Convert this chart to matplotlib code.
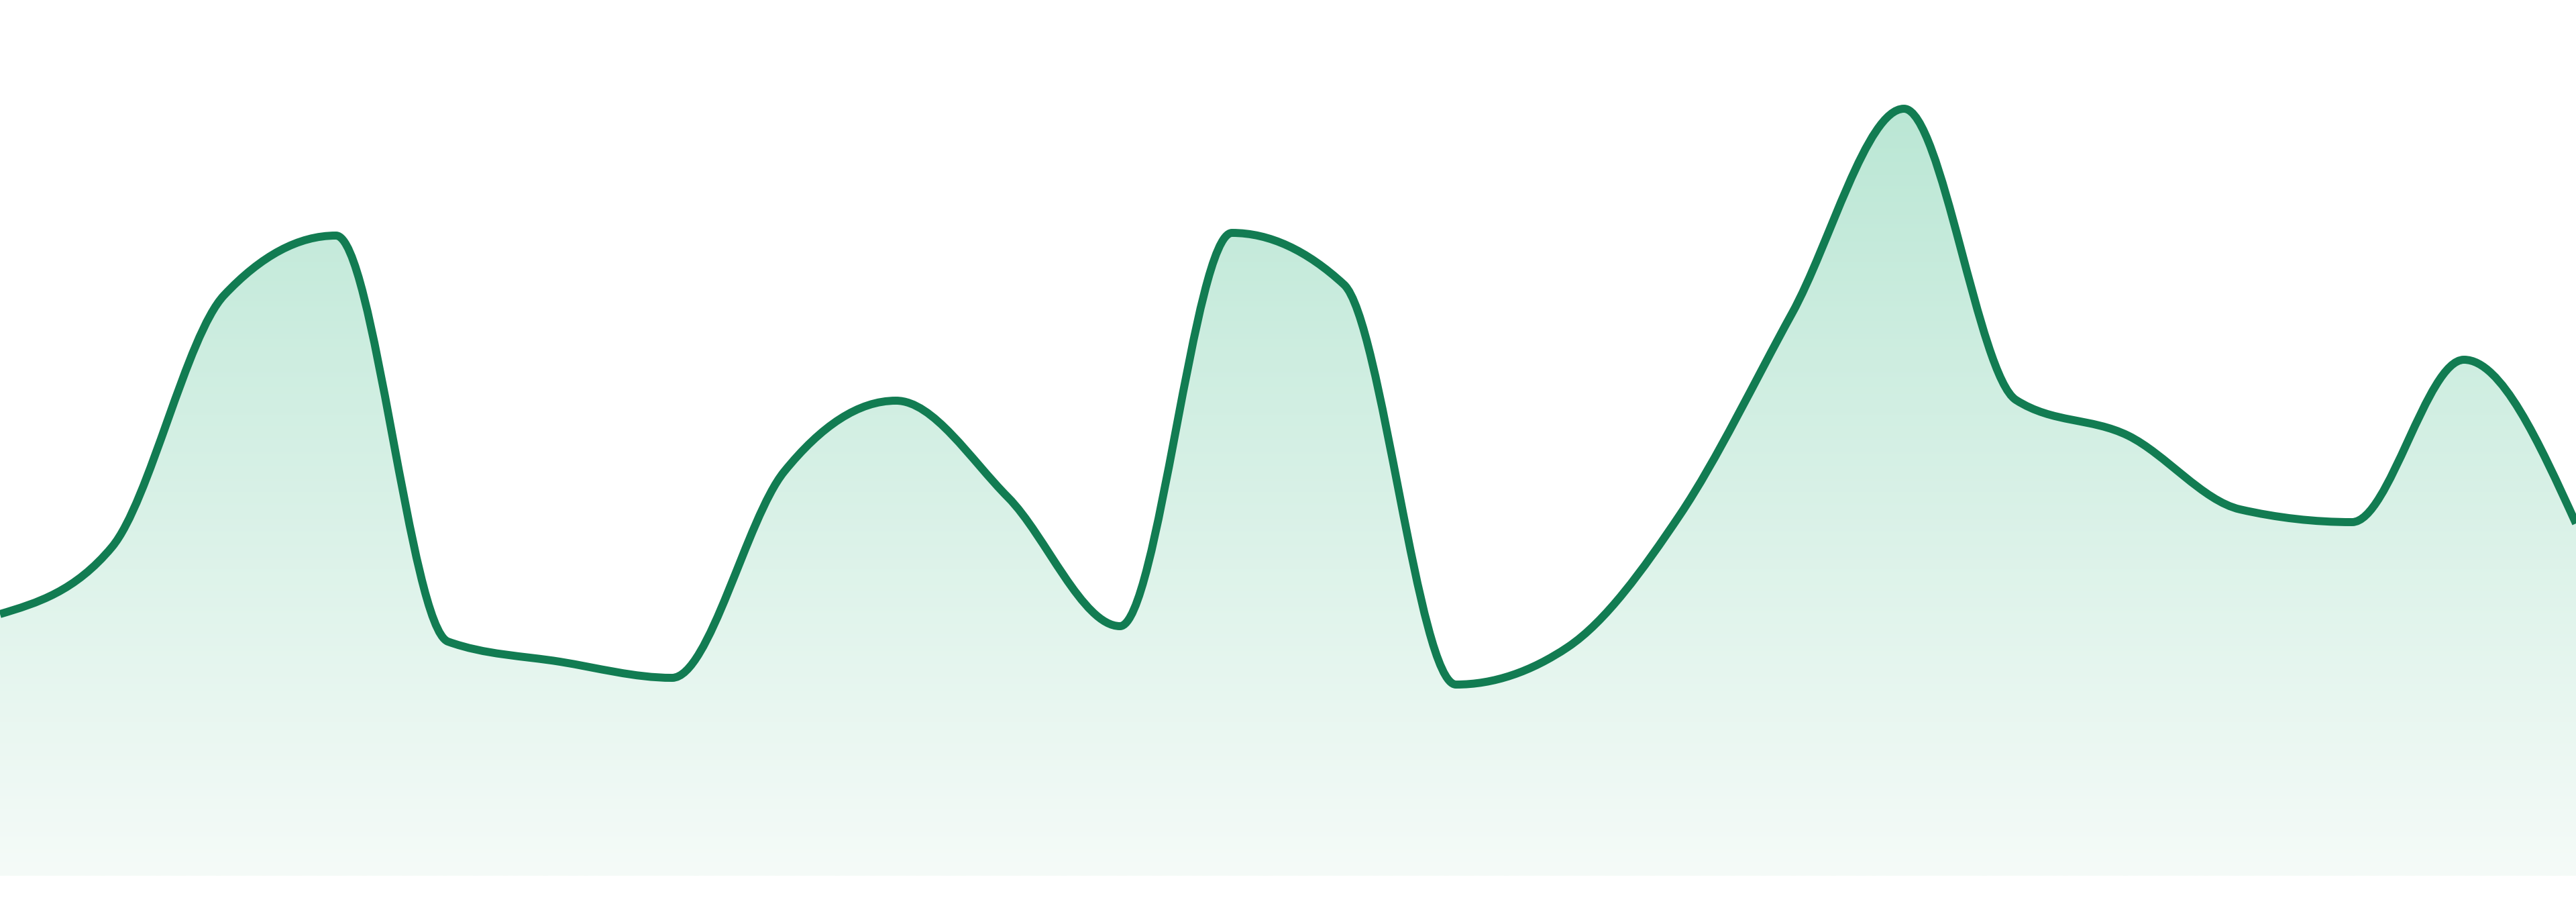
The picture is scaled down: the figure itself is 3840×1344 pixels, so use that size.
import numpy as np
import matplotlib
matplotlib.use("Agg")
import matplotlib.pyplot as plt
from matplotlib.path import Path
from matplotlib.patches import PathPatch

# ---- data ----
points = list(range(24))
values = [39.0, 49.0, 86.5, 95.4, 34.9, 31.9, 29.5, 60.2, 70.8, 56.4, 37.2, 95.8,
          88.1, 28.5, 34.1, 53.8, 83.8, 114.3, 70.9, 65.6, 54.6, 52.7, 76.9, 52.5]

LINE_COLOR = "#127c52"
FILL_TOP = "#bbe7d5"
FILL_BOTTOM = "#f5fbf8"


def monotone_x_path(xs, ys):
    """Cubic Bezier path following d3.curveMonotoneX."""
    xs = np.asarray(xs, float)
    ys = np.asarray(ys, float)
    n = len(xs)
    h = np.diff(xs)
    s = np.diff(ys) / h
    t = np.zeros(n)
    for i in range(1, n - 1):
        h0, h1 = h[i - 1], h[i]
        s0, s1 = s[i - 1], s[i]
        p = (s0 * h1 + s1 * h0) / (h0 + h1)
        t[i] = (np.sign(s0) + np.sign(s1)) * min(abs(s0), abs(s1), 0.5 * abs(p))
    t[0] = (3 * s[0] - t[1]) / 2
    t[-1] = (3 * s[-1] - t[-2]) / 2
    verts = [(xs[0], ys[0])]
    codes = [Path.MOVETO]
    for i in range(n - 1):
        dx = (xs[i + 1] - xs[i]) / 3
        verts += [(xs[i] + dx, ys[i] + dx * t[i]),
                  (xs[i + 1] - dx, ys[i + 1] - dx * t[i + 1]),
                  (xs[i + 1], ys[i + 1])]
        codes += [Path.CURVE4] * 3
    return verts, codes


fig = plt.figure(figsize=(38.4, 13.44), dpi=100)
ax = fig.add_axes([0, 0, 1, 1])
ax.set_axis_off()
ax.set_xlim(points[0], points[-1])
ax.set_ylim(-3.9, 130.5)

verts, codes = monotone_x_path(points, values)

# area path
area_verts = verts + [(points[-1], 0), (points[0], 0), (points[0], values[0])]
area_codes = codes + [Path.LINETO, Path.LINETO, Path.CLOSEPOLY]
area = PathPatch(Path(area_verts, area_codes), facecolor="none", edgecolor="none")
ax.add_patch(area)

top_rgb = np.array(matplotlib.colors.to_rgb(FILL_TOP))
bot_rgb = np.array(matplotlib.colors.to_rgb(FILL_BOTTOM))
frac = np.linspace(0, 1, 512)[:, None]
grad = (top_rgb[None, :] * (1 - frac) + bot_rgb[None, :] * frac)[:, None, :]
grad = np.repeat(grad, 2, axis=1)
im = ax.imshow(grad, extent=[points[0], points[-1], 0, max(values)],
               origin="upper", aspect="auto", interpolation="bilinear", zorder=1)
im.set_clip_path(area)

line = PathPatch(Path(verts, codes), facecolor="none", edgecolor=LINE_COLOR,
                 lw=8.6, joinstyle="round", capstyle="butt", zorder=3)
ax.add_patch(line)

fig.savefig("out.png", dpi=100, facecolor="white")
